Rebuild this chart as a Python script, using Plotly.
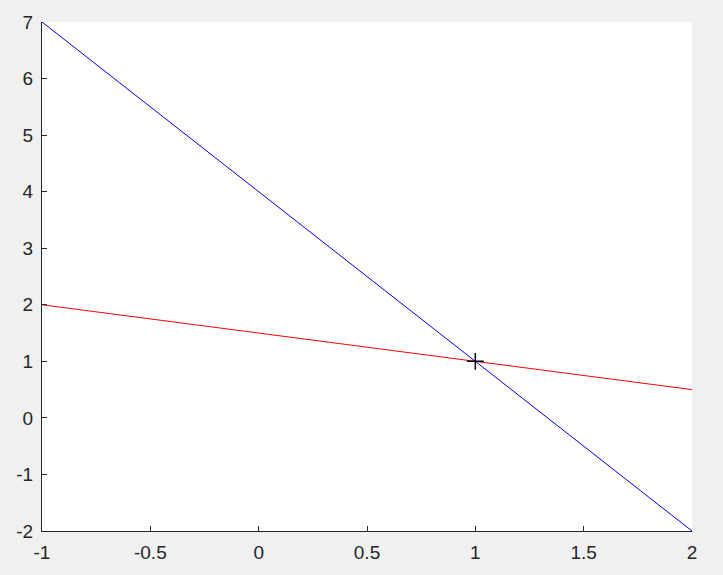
import plotly.graph_objects as go

x_range = [-1, 2]
blue_y = [7, -2]
red_y = [2, 0.5]
point_x = [1]
point_y = [1]
x_ticks = [-1, -0.5, 0, 0.5, 1, 1.5, 2]
x_tick_labels = ["-1", "-0.5", "0", "0.5", "1", "1.5", "2"]
y_ticks = [-2, -1, 0, 1, 2, 3, 4, 5, 6, 7]
y_tick_labels = ["-2", "-1", "0", "1", "2", "3", "4", "5", "6", "7"]

fig = go.Figure()
fig.add_trace(go.Scatter(x=x_range, y=blue_y, mode="lines",
                         line=dict(color="#0000FF", width=1)))
fig.add_trace(go.Scatter(x=x_range, y=red_y, mode="lines",
                         line=dict(color="#FF0000", width=1)))
fig.add_trace(go.Scatter(x=point_x, y=point_y, mode="markers",
                         marker=dict(symbol="cross-thin", size=12,
                                     line=dict(color="black", width=1.5))))

axis_common = dict(showgrid=False, zeroline=False, showline=True,
                   linecolor="#262626", linewidth=1, ticks="inside",
                   ticklen=5, tickcolor="#262626", mirror=False,
                   tickfont=dict(family="Liberation Sans, Arial", size=19, color="#262626"))

fig.update_layout(
    width=723, height=575, autosize=False,
    paper_bgcolor="#F0F0F0", plot_bgcolor="white",
    margin=dict(l=42, r=31, t=20, b=43),
    showlegend=False,
    xaxis=dict(range=[-1, 2], tickvals=x_ticks, ticktext=x_tick_labels,
               ticklabelstandoff=4, **axis_common),
    yaxis=dict(range=[-2, 7], tickvals=y_ticks, ticktext=y_tick_labels,
               ticklabelstandoff=4, **axis_common),
)

fig.write_html("out.html", config={"displayModeBar": False},
               post_script="document.body.style.margin='0';document.body.style.background='#F0F0F0';")
